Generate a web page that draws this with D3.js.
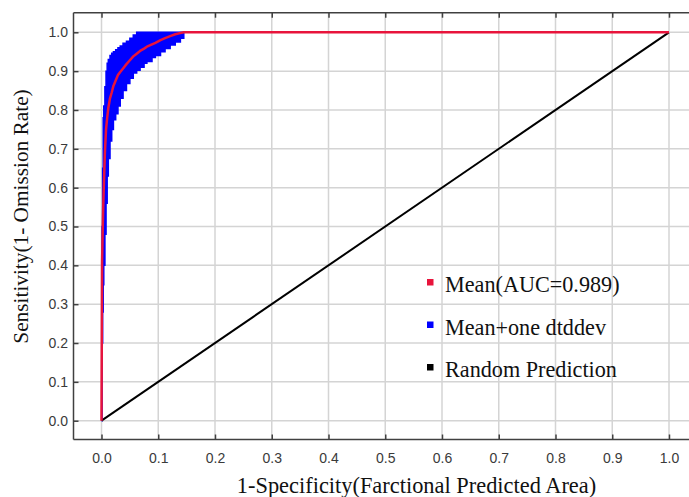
<!DOCTYPE html>
<html>
<head>
<meta charset="utf-8">
<script src="https://cdn.jsdelivr.net/npm/d3@7"></script>
<style>
  html, body { margin: 0; padding: 0; background: #fff; }
  svg { display: block; }
</style>
</head>
<body>
<svg id="chart" width="689" height="497"></svg>
<script>
// ---- data ----
const fpr = [0, 0.001, 0.002, 0.003, 0.004, 0.006, 0.008, 0.010, 0.012, 0.015, 0.018, 0.021,
  0.025, 0.029, 0.033, 0.038, 0.044, 0.050, 0.056, 0.062, 0.068, 0.075, 0.080, 0.089, 0.095,
  0.104, 0.112, 0.121, 0.130, 0.139, 0.145, 1.0];
const meanSens = [0, 0.41, 0.48, 0.55, 0.60, 0.69, 0.75, 0.78, 0.805, 0.83, 0.845, 0.862,
  0.876, 0.89, 0.898, 0.907, 0.918, 0.928, 0.938, 0.945, 0.952, 0.958, 0.963, 0.969, 0.973,
  0.98, 0.985, 0.99, 0.995, 0.998, 1.0, 1.0];
const upperSens = [0, 0.50, 0.65, 0.78, 0.81, 0.86, 0.90, 0.92, 0.93, 0.94, 0.946, 0.95,
  0.955, 0.96, 0.965, 0.972, 0.977, 0.985, 0.993, 1.0, 1.0, 1.0, 1.0, 1.0, 1.0,
  1.0, 1.0, 1.0, 1.0, 1.0, 1.0, 1.0];
const lowerSens = [0, 0.20, 0.28, 0.35, 0.40, 0.48, 0.56, 0.63, 0.675, 0.72, 0.75, 0.775,
  0.79, 0.81, 0.83, 0.85, 0.868, 0.882, 0.895, 0.902, 0.91, 0.92, 0.925, 0.935, 0.94,
  0.95, 0.958, 0.967, 0.975, 0.985, 1.0, 1.0];
const randomX = [0, 1];
const randomY = [0, 1];
const xTicks = [0, 0.1, 0.2, 0.3, 0.4, 0.5, 0.6, 0.7, 0.8, 0.9, 1.0];
const yTicks = [0, 0.1, 0.2, 0.3, 0.4, 0.5, 0.6, 0.7, 0.8, 0.9, 1.0];
const legendLabels = ["Mean(AUC=0.989)", "Mean+one dtddev", "Random Prediction"];
const legendColors = ["#e8143c", "#0000ff", "#000000"];
const xTitle = "1-Specificity(Farctional Predicted Area)";
const yTitle = "Sensitivity(1- Omission Rate)";

// ---- layout ----
const svg = d3.select("#chart");
const frameL = 73.5, frameT = 12.7, frameB = 439.5, frameR = 689;
const x = d3.scaleLinear().domain([0, 1]).range([101.5, 669]);
const y = d3.scaleLinear().domain([0, 1]).range([420.7, 32.3]);

// gridlines
const grid = svg.append("g");
grid.selectAll("line.v").data(xTicks).join("line")
  .attr("x1", d => x(d)).attr("x2", d => x(d))
  .attr("y1", frameT).attr("y2", frameB)
  .attr("stroke", "#d4d4d4").attr("stroke-width", 1.5);
grid.selectAll("line.h").data(yTicks).join("line")
  .attr("x1", frameL).attr("x2", frameR)
  .attr("y1", d => y(d)).attr("y2", d => y(d))
  .attr("stroke", "#d4d4d4").attr("stroke-width", 1.5);

// band
const bandData = fpr.map((f, i) => ({ f, lo: lowerSens[i], hi: upperSens[i] }));
svg.append("path").datum(bandData)
  .attr("fill", "#0000ff")
  .attr("stroke", "#0000ff").attr("stroke-width", 1.5)
  .attr("stroke-linejoin", "miter")
  .attr("d", d3.area().x(d => x(d.f)).y0(d => y(d.lo)).y1(d => y(d.hi)).curve(d3.curveStepAfter));

// random diagonal
svg.append("path").datum(randomX.map((v, i) => [v, randomY[i]]))
  .attr("fill", "none").attr("stroke", "#000").attr("stroke-width", 2)
  .attr("d", d3.line().x(d => x(d[0])).y(d => y(d[1])));

// mean line
svg.append("path").datum(fpr.map((f, i) => [f, meanSens[i]]))
  .attr("fill", "none").attr("stroke", "#e8143c").attr("stroke-width", 2.5)
  .attr("stroke-linejoin", "round")
  .attr("d", d3.line().x(d => x(d[0])).y(d => y(d[1])));

// axes (ticks inside)
const fmt = d3.format(".1f");
const axisFont = "'Liberation Sans', Arial, sans-serif";
const bottomAxis = svg.append("g").attr("transform", `translate(0,${frameB})`)
  .call(d3.axisBottom(x).tickValues(xTicks).tickFormat(fmt).tickSizeInner(-5).tickSizeOuter(0).tickPadding(14));
const topAxis = svg.append("g").attr("transform", `translate(0,${frameT})`)
  .call(d3.axisTop(x).tickValues(xTicks).tickFormat("").tickSizeInner(-5).tickSizeOuter(0));
const leftAxis = svg.append("g").attr("transform", `translate(${frameL},0)`)
  .call(d3.axisLeft(y).tickValues(yTicks).tickFormat(fmt).tickSizeInner(-5).tickSizeOuter(0).tickPadding(5.5));
[bottomAxis, topAxis, leftAxis].forEach(g => {
  g.select(".domain").remove();
  g.selectAll(".tick line").attr("stroke", "#404040").attr("stroke-width", 1.5);
  g.selectAll(".tick text").attr("fill", "#3a3a3a").style("font-family", axisFont).style("font-size", "14px");
});

// frame
const frame = svg.append("g").attr("stroke", "#404040").attr("stroke-width", 1.5);
frame.append("line").attr("x1", frameL).attr("x2", frameR).attr("y1", frameT).attr("y2", frameT);
frame.append("line").attr("x1", frameL).attr("x2", frameR).attr("y1", frameB).attr("y2", frameB);
frame.append("line").attr("x1", frameL).attr("x2", frameL).attr("y1", frameT).attr("y2", frameB);

// titles
const serif = "'Liberation Serif', 'Times New Roman', serif";
svg.append("text").text(xTitle)
  .attr("x", 416.5).attr("y", 493).attr("text-anchor", "middle")
  .style("font-family", serif).style("font-size", "22.4px").attr("fill", "#111");
svg.append("text").text(yTitle)
  .attr("transform", "translate(28,216.5) rotate(-90)").attr("text-anchor", "middle")
  .style("font-family", serif).style("font-size", "21.3px").attr("fill", "#111");

// legend
const legend = svg.append("g");
const legendY = [292, 334.5, 377];
legendLabels.forEach((lab, i) => {
  legend.append("rect").attr("x", 427).attr("y", legendY[i] - 13).attr("width", 6.5).attr("height", 6.5)
    .attr("fill", legendColors[i]);
  legend.append("text").text(lab).attr("x", 445).attr("y", legendY[i])
    .style("font-family", serif).style("font-size", "22.2px").attr("fill", "#111");
});
</script>
</body>
</html>
